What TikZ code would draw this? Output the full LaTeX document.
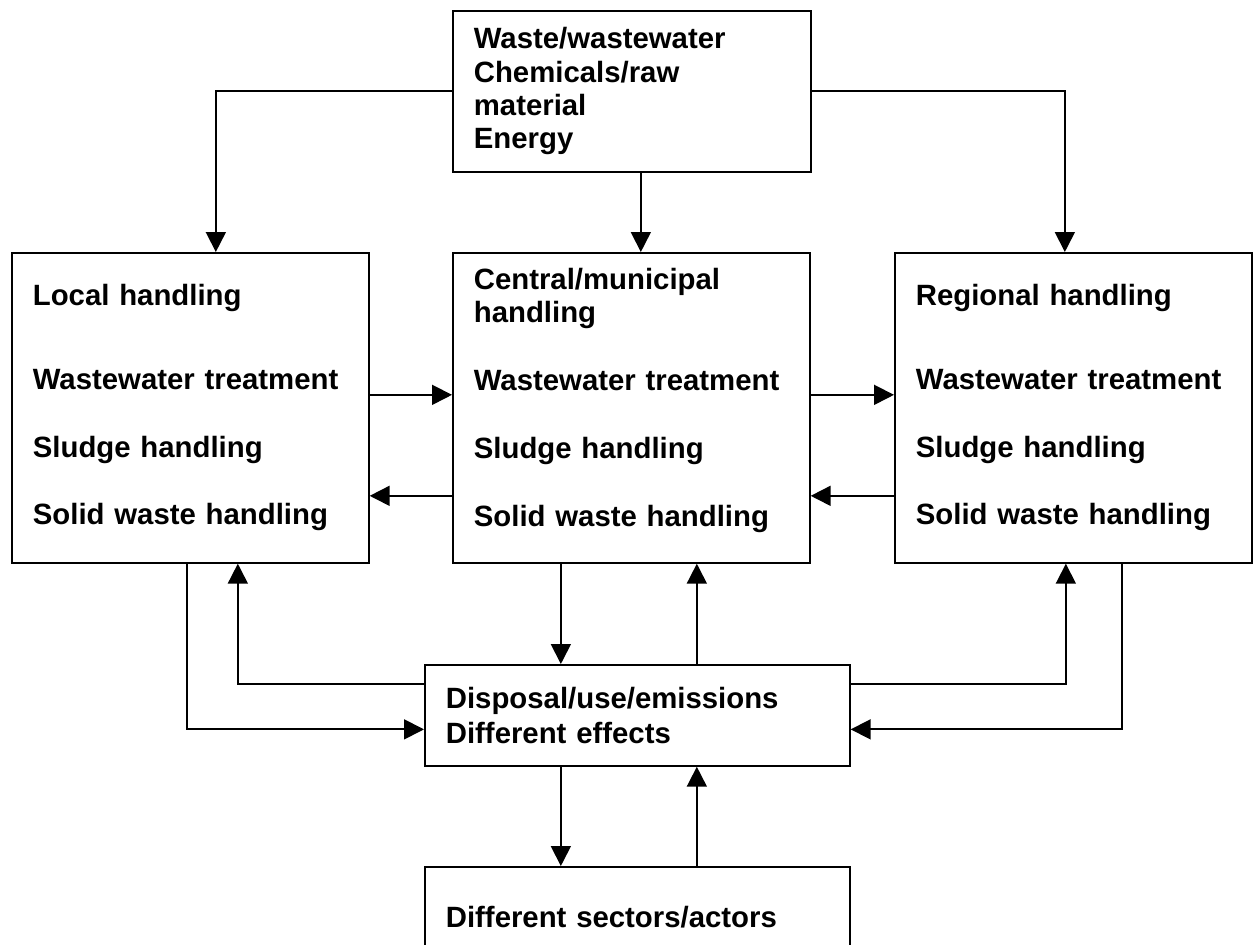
\documentclass[tikz,border=0pt]{standalone}
\usepackage{fontspec}
\setmainfont{Liberation Sans}
\usetikzlibrary{arrows.meta}
\newcommand{\boxfont}{\fontsize{16.7}{19}\selectfont\bfseries}

\begin{document}
\begin{tikzpicture}[x=0.02cm, y=-0.02cm,
	box/.style={draw, line width=1pt, anchor=north west, align=left, inner xsep=0.42cm, inner ysep=0pt, font=\boxfont},
	wide/.style={box, text width=6.30cm, minimum height=6.2cm},
	flat/.style={box, text width=7.66cm, minimum height=2.02cm},
	arr/.style={line width=1pt, -{Triangle[length=0.4cm, width=0.4cm]}}]
	\useasboundingbox (0, 0) rectangle (1253, 945);

	% input box
	\node[box, text width=6.32cm, minimum height=3.22cm] (input) at (452, 10)
		{Waste/wastewater\\Chemicals/raw\\material\\Energy};

	% three handling levels
	\node[wide] (local) at (11, 252)
		{Local handling\\[1cm]Wastewater treatment\\[0.69cm]Sludge handling\\[0.69cm]Solid waste handling};
	\node[wide] (central) at (452, 252)
		{Central/municipal\\handling\\[0.69cm]Wastewater treatment\\[0.69cm]Sludge handling\\[0.69cm]Solid waste handling\\[-0.23cm]\mbox{}};
	\node[wide] (regional) at (894, 252)
		{Regional handling\\[1cm]Wastewater treatment\\[0.69cm]Sludge handling\\[0.69cm]Solid waste handling};

	% outcome and actors
	\node[flat] (disposal) at (424, 664) {Disposal/use/emissions\\[0.04cm]Different effects};
	\node[flat] (sectors) at (424, 866) {Different sectors/actors};

	% from input
	\draw[arr] (input.west) -| ([xshift=0.51cm]local.north);
	\draw[arr] ([xshift=0.18cm]input.south) -- ([xshift=0.18cm]input.south |- central.north);
	\draw[arr] (input.east) -| ([xshift=-0.17cm]regional.north);

	% between levels
	\draw[arr] ([yshift=0.26cm]local.east) -- ([yshift=0.26cm]central.west);
	\draw[arr] ([yshift=-1.76cm]central.west) -- ([yshift=-1.76cm]local.east);
	\draw[arr] ([yshift=0.26cm]central.east) -- ([yshift=0.26cm]regional.west);
	\draw[arr] ([yshift=-1.76cm]regional.west) -- ([yshift=-1.76cm]central.east);

	% levels and disposal
	\draw[arr] ([xshift=-0.07cm]local.south) |- ([yshift=-0.28cm]disposal.west);
	\draw[arr] ([yshift=0.63cm]disposal.west) -| ([xshift=0.95cm]local.south);
	\draw[arr] ([xshift=-1.41cm]central.south) -- ([xshift=-1.41cm]central.south |- disposal.north);
	\draw[arr] ([xshift=1.31cm]central.south |- disposal.north) -- ([xshift=1.31cm]central.south);
	\draw[arr] ([yshift=0.63cm]disposal.east) -| ([xshift=-0.15cm]regional.south);
	\draw[arr] ([xshift=0.97cm]regional.south) |- ([yshift=-0.28cm]disposal.east);

	% disposal and sectors
	\draw[arr] ([xshift=-1.53cm]disposal.south) -- ([xshift=-1.53cm]sectors.north);
	\draw[arr] ([xshift=1.19cm]sectors.north) -- ([xshift=1.19cm]disposal.south);
\end{tikzpicture}
\end{document}
